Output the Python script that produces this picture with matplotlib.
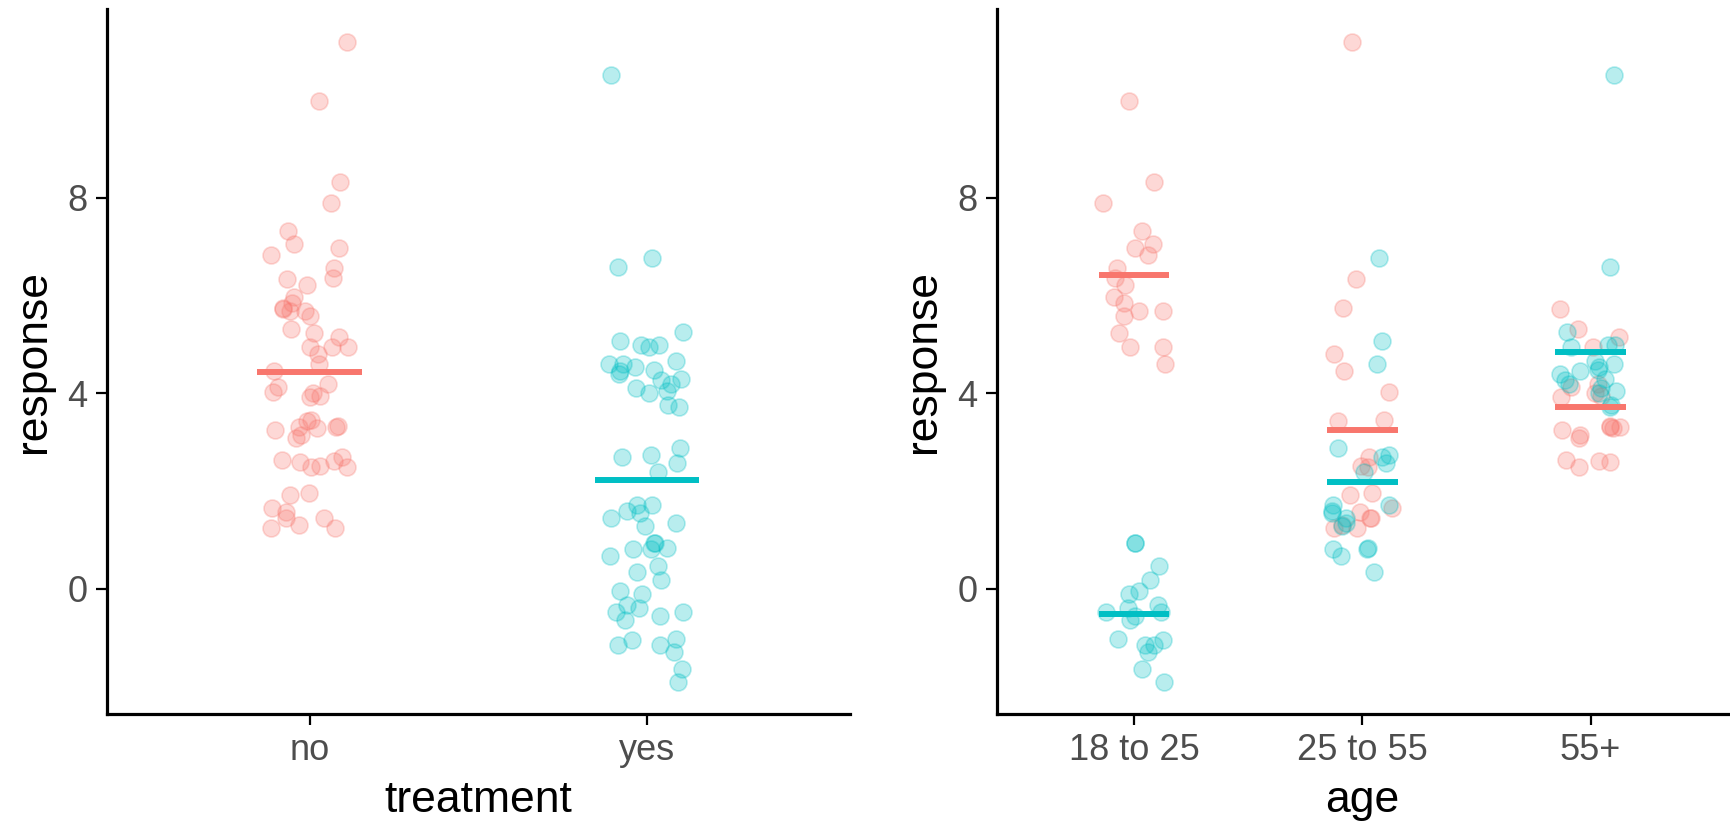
import numpy as np
import matplotlib.pyplot as plt

plt.rcParams['font.family'] = ['Liberation Sans', 'DejaVu Sans']

treatments = ["no", "yes"]
ages = ["18 to 25", "25 to 55", "55+"]

# response values, split by treatment and age group
no_18_25 = [9.98, 8.33, 7.89, 7.32, 7.05, 6.98, 6.84, 6.57, 6.35, 6.22,
            5.97, 5.84, 5.69, 5.69, 5.59, 5.23, 4.94, 4.94, 4.59]
no_25_55 = [11.20, 6.34, 5.74, 4.80, 4.45, 4.03, 3.45, 3.43, 2.70, 2.52,
            2.50, 1.96, 1.92, 1.65, 1.57, 1.45, 1.45, 1.30, 1.25, 1.25]
no_55 = [5.72, 5.32, 5.15, 4.94, 3.30, 3.95, 4.20, 4.13, 4.00, 3.93,
         3.32, 3.30, 3.28, 3.25, 3.15, 3.08, 2.64, 2.62, 2.60, 2.50]
yes_18_25 = [0.93, 0.93, 0.47, 0.18, -0.04, -0.11, -0.33, -0.40, -0.48, -0.48,
             -0.65, -0.55, -1.06, -1.03, -1.15, -1.15, -1.30, -1.64, -1.91]
yes_25_55 = [6.76, 5.08, 4.59, 2.88, 2.74, 2.69, 2.57, 2.38, 1.72, 1.72,
             1.55, 1.59, 1.45, 1.35, 1.28, 0.81, 0.81, 0.84, 0.67, 0.34]
yes_55 = [10.51, 6.59, 5.25, 4.98, 4.98, 4.94, 4.67, 4.54, 4.47, 4.27,
          4.10, 4.01, 3.76, 3.72, 4.45, 4.30, 4.60, 4.05, 4.20, 4.40]

data = {
    "no": [no_18_25, no_25_55, no_55],
    "yes": [yes_18_25, yes_25_55, yes_55],
}
colors = {"no": "#F8766D", "yes": "#00BFC4"}

rng = np.random.default_rng(7)
half = 0.155
msize = 150

fig = plt.figure(figsize=(17.31, 8.25), dpi=100)
ax1 = fig.add_axes([0.0618, 0.1345, 0.429, 0.854])
ax2 = fig.add_axes([0.576, 0.1345, 0.422, 0.854])

allvals = np.concatenate([np.concatenate(v) for v in data.values()])
lo, hi = allvals.min(), allvals.max()
pad = 0.05 * (hi - lo)


def pts(ax, x, vals, col, jit):
    vals = np.asarray(vals)
    xs = x + rng.uniform(-jit, jit, len(vals))
    ax.scatter(xs, vals, s=msize, facecolor=col, edgecolor=col, alpha=0.28,
               linewidth=1.2, zorder=2)


# left panel: by treatment
for i, t in enumerate(treatments):
    vals = np.concatenate(data[t])
    pts(ax1, i + 1, vals, colors[t], 0.115)
for i, t in enumerate(treatments):
    vals = np.concatenate(data[t])
    ax1.hlines(vals.mean(), i + 1 - half, i + 1 + half, color=colors[t], lw=4.3, zorder=3)
ax1.set_xlim(0.4, len(treatments) + 0.6)
ax1.set_xticks(range(1, len(treatments) + 1))
ax1.set_xticklabels(treatments)
ax1.set_xlabel("treatment")

# right panel: by age, coloured by treatment
for j, a in enumerate(ages):
    for t in treatments:
        pts(ax2, j + 1, data[t][j], colors[t], 0.14)
for j, a in enumerate(ages):
    for t in treatments:
        ax2.hlines(np.mean(data[t][j]), j + 1 - half, j + 1 + half,
                   color=colors[t], lw=4.3, zorder=3)
ax2.set_xlim(0.4, len(ages) + 0.6)
ax2.set_xticks(range(1, len(ages) + 1))
ax2.set_xticklabels(ages)
ax2.set_xlabel("age")

for ax in (ax1, ax2):
    ax.set_ylim(lo - pad, hi + pad)
    ax.set_yticks([0, 4, 8])
    ax.set_ylabel("response")
    ax.spines['top'].set_visible(False)
    ax.spines['right'].set_visible(False)
    for s in ('left', 'bottom'):
        ax.spines[s].set_linewidth(2.3)
    ax.tick_params(length=8, width=1.6, labelsize=26, labelcolor="#4D4D4D", pad=6)
    ax.xaxis.label.set_size(32)
    ax.yaxis.label.set_size(32)
    ax.xaxis.labelpad = 8
    ax.yaxis.labelpad = 10

fig.savefig("out.png", dpi=100)
